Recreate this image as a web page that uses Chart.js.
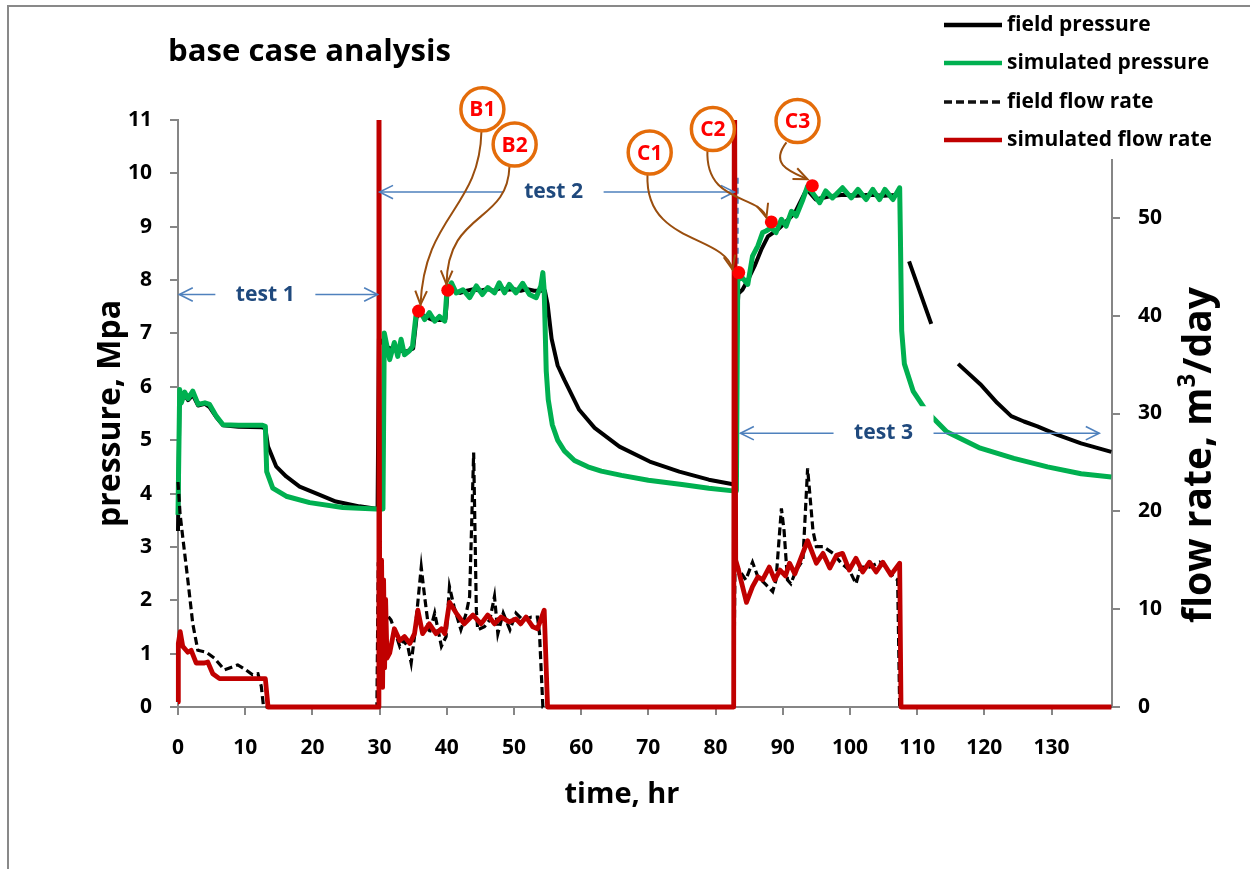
<!DOCTYPE html>
<html>
<head>
<meta charset="utf-8">
<script src="https://cdn.jsdelivr.net/npm/chart.js@4.4.1/dist/chart.umd.min.js"></script>
<style>
  html, body { margin: 0; padding: 0; background: #fff; }
  #wrap { width: 1250px; height: 869px; }
</style>
</head>
<body>
<div id="wrap"><canvas id="c" width="1250" height="869"></canvas></div>
<script>
// ---- measured series: [time (hr), value] ----
const fieldPressure = [
  [0,3.3],[0.2,5.6],[0.5,5.75],[1,5.85],[1.5,5.75],[2.2,5.85],[3,5.65],[4,5.68],[4.7,5.62],[5.7,5.43],
  [6.7,5.28],[9,5.25],[12.5,5.24],[13.0,5.22],[13.4,4.88],[14.6,4.51],[16.1,4.32],[18.1,4.13],[21,3.98],
  [23.5,3.85],[27,3.76],[29.7,3.71],
  [29.9,6.9],[31,6.75],[32,6.7],[33,6.68],[34,6.66],[35,6.72],[35.5,7.3],[36,7.38],[37,7.3],[38,7.25],
  [39,7.25],[39.8,7.27],[40.1,7.75],[41,7.8],[42,7.76],[43,7.8],[44,7.83],[45,7.8],[46,7.83],[47,7.8],
  [48,7.85],[49,7.82],[50,7.83],[51,7.8],[52,7.83],[53,7.8],[54,7.8],[54.6,7.8],[55.0,7.55],[55.6,6.9],
  [56.5,6.4],[57.5,6.13],[59.7,5.57],[62,5.23],[65.7,4.88],[70.2,4.6],[74.6,4.41],[79,4.26],[82.8,4.17],
  [83.1,7.1],[83.4,7.75],[84.0,7.82],[84.8,8.0],[85.8,8.26],[86.8,8.57],[87.8,8.82],[89.3,8.95],[90.3,9.07],
  [91.8,9.26],[93.3,9.64],[93.6,9.7],[94.9,9.51],[97,9.57],[99,9.6],[101,9.58],[103,9.6],[105,9.58],
  [107.4,9.6],[107.6,null],[108.8,8.35],[112.1,7.18],[114,null],[116.1,6.43],[119.4,6.05],[121.9,5.7],
  [124,5.45],[125.9,5.35],[127.9,5.26],[130.9,5.1],[134.4,4.94],[138.9,4.78]
];

const simulatedPressure = [
  [0,3.6],[0.25,5.95],[0.5,5.7],[1,5.9],[1.5,5.78],[2.2,5.92],[3,5.67],[4,5.7],[4.7,5.67],[5.7,5.45],
  [6.7,5.29],[9,5.28],[12.5,5.28],[13.0,5.26],[13.2,4.41],[14.1,4.1],[16.1,3.95],[19.6,3.83],[24.5,3.74],
  [29.5,3.71],[30.5,3.71],
  [30.7,7.01],[31.5,6.51],[32.2,6.83],[32.7,6.57],[33.2,6.89],[33.7,6.6],[34.4,6.67],[34.9,6.76],[35.4,7.32],
  [35.9,7.45],[36.7,7.26],[37.4,7.39],[38.2,7.23],[38.9,7.32],[39.7,7.23],[40.0,7.76],[40.7,7.95],[41.4,7.76],
  [42.4,7.82],[43.4,7.67],[44.4,7.89],[45.3,7.73],[46.1,7.86],[47.1,7.76],[47.8,7.95],[48.6,7.76],[49.3,7.92],
  [50.3,7.76],[51.3,7.94],[52.3,7.73],[53.3,7.67],[54.0,7.89],[54.3,8.14],[54.5,7.8],[54.8,6.3],[55.1,5.76],
  [55.7,5.29],[56.5,5.0],[57.5,4.8],[59,4.62],[61,4.5],[63,4.42],[66,4.34],[70,4.25],[75,4.17],[79,4.1],
  [82.6,4.05],[83.1,4.05],
  [83.3,8.01],[84.0,8.04],[84.8,7.92],[85.5,8.45],[86.3,8.64],[87.0,8.89],[87.5,8.92],[88.3,8.98],[89.0,8.89],
  [89.8,9.14],[90.5,9.01],[91.3,9.29],[92.0,9.2],[93.0,9.51],[93.7,9.76],[94.4,9.64],[95.5,9.45],[96.4,9.67],
  [97.4,9.54],[98.9,9.73],[100.2,9.54],[101.2,9.7],[102.4,9.51],[103.4,9.7],[104.4,9.51],[105.2,9.7],
  [106.4,9.51],[107.4,9.73],[107.5,8.9],[107.7,7.05],[108.1,6.43],[109.4,5.92],[111.4,5.54],[114.4,5.16],
  [119.4,4.85],[124.4,4.66],[129.4,4.5],[134.4,4.37],[138.9,4.31]
];

const fieldFlowRate = [
  [0,23],[0.3,19.8],[0.7,17.4],[1.46,13],[2.2,8.5],[2.95,5.8],[4.2,5.6],[5.4,5.0],[6.9,3.8],[8.9,4.3],
  [10.1,3.8],[11.1,3.3],[11.9,3.4],[12.4,2.1],[12.7,0.2],[13,0],[29.6,0],
  [29.8,14.8],[30.3,12],[31,9.5],[31.7,8.9],[33.0,6.2],[33.5,6.8],[34.2,6.2],[34.7,4.5],[35.2,7.2],[36.2,14.3],
  [36.7,11.3],[37.4,7.5],[38.2,9.6],[39.2,6.2],[39.9,7.2],[40.4,12.3],[41.1,10.2],[42.1,7.9],[42.9,9.6],
  [43.4,11.3],[44.0,26],[44.4,9.9],[44.6,7.9],[45.6,8.2],[46.4,8.9],[47.1,11.3],[47.6,7.5],[48.4,9.6],
  [49.4,7.9],[50.3,9.6],[51.3,8.9],[52.6,9.2],[53.5,9.2],[53.8,7.5],[54.3,0],[82.7,0],
  [82.9,15],[83.5,14],[84.5,13],[85.5,14.8],[86.3,13.3],[87.5,12.5],[88.5,11.8],[89.0,13],[89.8,20.3],
  [90.2,18],[90.7,13],[91.2,12.6],[92.0,14],[93.0,15],[93.7,24.4],[94.5,18],[95.0,16.4],[96.0,16.4],
  [97.5,15.7],[98.7,14.7],[99.9,14],[100.9,12.6],[101.6,14.3],[102.9,14.3],[104.4,14.8],[105.4,14.3],
  [106.4,13.3],[107.1,13],[107.4,0],[138.9,0]
];

const simulatedFlowRate = [
  [0,0.5],[0.05,6.5],[0.33,7.7],[0.71,6.2],[1.46,5.6],[1.96,5.8],[2.7,4.5],[3.94,4.5],[4.43,4.6],[5.18,3.4],
  [6.18,2.9],[12.1,2.9],[13.0,2.9],[13.4,0],[29.8,0],
  [29.9,75],[30.0,16],[30.15,3],[30.3,15],[30.45,2],[30.6,13],[30.75,4],[30.9,11],[31.1,5],[31.5,5.5],
  [32.2,8.0],[33.0,6.8],[33.7,7.2],[34.5,6.5],[35.2,7.5],[35.7,9.9],[36.4,7.5],[37.4,8.5],[38.4,7.5],
  [39.2,8.0],[39.7,7.5],[40.4,10.7],[41.4,9.6],[42.6,8.5],[43.9,9.4],[45.1,8.5],[46.1,9.4],[47.1,8.5],
  [48.1,9.2],[49.3,8.7],[50.3,9.0],[51.0,8.5],[51.8,9.2],[52.8,8.2],[53.5,8.0],[54.5,9.9],[55.0,0],[82.7,0],
  [82.8,75],[83.0,15],[83.3,14.3],[84.6,10.7],[85.5,12.3],[86.3,13.3],[87.0,13.0],[88.0,14.3],[88.8,13.0],
  [89.6,14.0],[90.4,13.4],[91.0,14.7],[91.8,13.6],[93.7,17.0],[95.0,14.7],[96.0,15.7],[97.0,14.2],[98.0,15.5],
  [98.9,15.7],[99.9,14.0],[100.9,15.2],[101.9,13.8],[102.9,14.8],[103.9,13.8],[104.9,14.8],[106.1,13.5],
  [107.4,14.7],[107.6,0],[138.9,0]
];

// history-match checkpoints on the pressure curve
const checkpointNames = ['B1','B2','C1','C2','C3'];
const checkpoints = [[35.8,7.42],[40.15,7.81],[83.45,8.14],[88.3,9.09],[94.4,9.77]];
const checkpointBadges = [[45.3,11.2],[50.1,10.54],[70.2,10.39],[79.6,10.83],[92.2,10.98]];
// leader curves: start, control 1, control 2, end   [hr, MPa]
const checkpointLeaders = [
  [[45.16,10.79],[44.87,9.32],[36.68,9.23],[36.09,7.54]],
  [[49.33,10.13],[49.03,9.04],[40.1,9.32],[39.96,7.92]],
  [[69.87,9.98],[69.42,8.67],[81.33,8.86],[82.52,8.2]],
  [[78.8,10.45],[78.35,9.42],[86.53,9.61],[87.57,9.17]],
  [[90.55,10.58],[88.02,10.17],[91.0,10.04],[93.68,9.89]]
];

// test periods
const testNames = ['test 1','test 2','test 3'];
const testSpans = [[0.2,29.7],[30.0,82.8],[83.7,137.1]];
const testLabelPos = [[13.0,7.73],[55.9,9.65],[105.0,5.13]];
const testBoundaries = [[29.8,10.05,7.0],[83.3,9.92,8.0]];

// axis ticks
const timeTicks = { min: 0, max: 139, step: 10 };
const pressureTicks = { min: 0, max: 11, step: 1 };
const rateTicks = { min: 0, max: 60, step: 10 };

const toXY = arr => arr.map(([x, y]) => ({ x, y }));

const FONT = '"Open Sans", Lato, "DejaVu Sans", sans-serif';
const AXIS_GREY = '#868686';
const BLUE_LINE = '#4F81BD';
const BLUE_TEXT = '#1F497D';
const BROWN = '#9A4E0E';
const ORANGE = '#E46C0A';

function openHead(ctx, fx, fy, tx, ty, len, ang) {
  const a = Math.atan2(ty - fy, tx - fx);
  ctx.beginPath();
  ctx.moveTo(tx - len * Math.cos(a - ang), ty - len * Math.sin(a - ang));
  ctx.lineTo(tx, ty);
  ctx.lineTo(tx - len * Math.cos(a + ang), ty - len * Math.sin(a + ang));
  ctx.stroke();
}

// pick a bold font size so that `text` spans `width` pixels
function fitFont(ctx, text, width) {
  ctx.font = 'bold 100px ' + FONT;
  return 100 * width / ctx.measureText(text).width;
}

const decorations = {
  id: 'decorations',
  beforeDatasetsDraw(chart) {
    const { ctx, scales: { x, y } } = chart;
    ctx.save();
    ctx.strokeStyle = BLUE_LINE;
    ctx.lineWidth = 2;
    ctx.setLineDash([6, 4]);
    testBoundaries.forEach(([t, top, bottom]) => {
      const px = x.getPixelForValue(t);
      ctx.beginPath();
      ctx.moveTo(px, y.getPixelForValue(top));
      ctx.lineTo(px, y.getPixelForValue(bottom));
      ctx.stroke();
    });
    ctx.restore();
  },
  afterDatasetsDraw(chart) {
    const { ctx, scales: { x, y } } = chart;
    ctx.save();

    // test period labels with double arrows
    const testSize = fitFont(ctx, 'test 1', 59);
    testNames.forEach((name, i) => {
      const cx = x.getPixelForValue(testLabelPos[i][0]);
      const cy = y.getPixelForValue(testLabelPos[i][1]);
      const boxW = 100, boxH = 54;
      ctx.fillStyle = '#fff';
      ctx.fillRect(cx - boxW / 2, cy - boxH / 2, boxW, boxH);
      ctx.fillStyle = BLUE_TEXT;
      ctx.font = 'bold ' + testSize + 'px ' + FONT;
      ctx.textAlign = 'center';
      ctx.textBaseline = 'middle';
      ctx.fillText(name, cx, cy);
      const l = x.getPixelForValue(testSpans[i][0]);
      const r = x.getPixelForValue(testSpans[i][1]);
      ctx.strokeStyle = BLUE_LINE;
      ctx.lineWidth = 1.6;
      ctx.beginPath();
      ctx.moveTo(cx - boxW / 2, cy); ctx.lineTo(l, cy);
      ctx.moveTo(cx + boxW / 2, cy); ctx.lineTo(r, cy);
      ctx.stroke();
      openHead(ctx, cx, cy, l, cy, 15, 0.46);
      openHead(ctx, cx, cy, r, cy, 15, 0.46);
    });

    // checkpoint badges and leaders
    checkpointNames.forEach((name, i) => {
      const pts = checkpointLeaders[i].map(([t, p]) => [x.getPixelForValue(t), y.getPixelForValue(p)]);
      ctx.strokeStyle = BROWN;
      ctx.lineWidth = 2;
      ctx.beginPath();
      ctx.moveTo(pts[0][0], pts[0][1]);
      ctx.bezierCurveTo(pts[1][0], pts[1][1], pts[2][0], pts[2][1], pts[3][0], pts[3][1]);
      ctx.stroke();
      openHead(ctx, pts[2][0], pts[2][1], pts[3][0], pts[3][1], 15, 0.4);

      const bx = x.getPixelForValue(checkpointBadges[i][0]);
      const by = y.getPixelForValue(checkpointBadges[i][1]);
      ctx.beginPath();
      ctx.arc(bx, by, 21.5, 0, Math.PI * 2);
      ctx.fillStyle = '#fff';
      ctx.fill();
      ctx.strokeStyle = ORANGE;
      ctx.lineWidth = 3.5;
      ctx.stroke();
      ctx.fillStyle = '#FF0000';
      ctx.font = 'bold 21px ' + FONT;
      ctx.textAlign = 'center';
      ctx.textBaseline = 'middle';
      ctx.fillText(name, bx, by + 1);
    });
    ctx.restore();
  },
  afterDraw(chart) {
    const { ctx, chartArea } = chart;
    ctx.save();

    // outer frame
    ctx.strokeStyle = '#898989';
    ctx.lineWidth = 2;
    ctx.strokeRect(8, 6, 1260, 880);

    // title
    ctx.fillStyle = '#000';
    ctx.font = 'bold ' + fitFont(ctx, 'base case analysis', 283) + 'px ' + FONT;
    ctx.textAlign = 'left';
    ctx.textBaseline = 'alphabetic';
    ctx.fillText('base case analysis', 168, 61);

    // axis titles
    ctx.font = 'bold ' + fitFont(ctx, 'time, hr', 115) + 'px ' + FONT;
    ctx.textAlign = 'center';
    ctx.textBaseline = 'middle';
    ctx.fillText('time, hr', 622, 795);

    ctx.save();
    ctx.font = 'bold ' + fitFont(ctx, 'pressure, Mpa', 227) + 'px ' + FONT;
    ctx.translate(111, (chartArea.top + chartArea.bottom) / 2);
    ctx.rotate(-Math.PI / 2);
    ctx.fillText('pressure, Mpa', 0, 0);
    ctx.restore();

    ctx.save();
    ctx.translate(1200, 455);
    ctx.rotate(-Math.PI / 2);
    const bigSize = fitFont(ctx, 'flow rate, m/day', 322);
    const big = 'bold ' + bigSize + 'px ' + FONT, small = 'bold ' + (bigSize * 0.62) + 'px ' + FONT;
    ctx.textAlign = 'left';
    ctx.textBaseline = 'middle';
    ctx.font = big; const w1 = ctx.measureText('flow rate, m').width; const w3 = ctx.measureText('/day').width;
    ctx.font = small; const w2 = ctx.measureText('3').width;
    let sx = -(w1 + w2 + w3) / 2;
    ctx.font = big; ctx.fillText('flow rate, m', sx, 0); sx += w1;
    ctx.font = small; ctx.fillText('3', sx, -bigSize * 0.3); sx += w2;
    ctx.font = big; ctx.fillText('/day', sx, 0);
    ctx.restore();

    // legend
    ctx.fillStyle = '#fff';
    ctx.fillRect(930, 8, 320, 151);
    const items = [
      { label: 'field pressure', color: '#000', width: 4.5, dash: [] },
      { label: 'simulated pressure', color: '#00B050', width: 4.5, dash: [] },
      { label: 'field flow rate', color: '#111', width: 3.5, dash: [8, 4] },
      { label: 'simulated flow rate', color: '#C00000', width: 4.5, dash: [] }
    ];
    const rows = [25, 63, 102, 140];
    const legendSize = fitFont(ctx, 'simulated flow rate', 205);
    items.forEach((it, i) => {
      ctx.strokeStyle = it.color;
      ctx.lineWidth = it.width;
      ctx.setLineDash(it.dash);
      ctx.beginPath();
      ctx.moveTo(944, rows[i]);
      ctx.lineTo(1002, rows[i]);
      ctx.stroke();
      ctx.setLineDash([]);
      ctx.fillStyle = '#000';
      ctx.font = 'bold ' + legendSize + 'px ' + FONT;
      ctx.textAlign = 'left';
      ctx.textBaseline = 'middle';
      ctx.fillText(it.label, 1007, rows[i]);
    });
    ctx.restore();
  }
};

const tickFont = { family: FONT, size: 21, weight: 'bold' };
const edgeClip = { left: 6, right: 6, bottom: 6, top: 0 };

new Chart(document.getElementById('c'), {
  data: {
    datasets: [
      { type: 'scatter', label: 'checkpoints', data: toXY(checkpoints), yAxisID: 'y',
        pointRadius: 6.5, pointBackgroundColor: '#FF0000', pointBorderWidth: 0, order: 0 },
      { type: 'line', label: 'simulated flow rate', data: toXY(simulatedFlowRate), yAxisID: 'y2',
        borderColor: '#C00000', borderWidth: 4.8, pointRadius: 0, tension: 0, clip: edgeClip,
        borderJoinStyle: 'round', order: 1 },
      { type: 'line', label: 'field flow rate', data: toXY(fieldFlowRate), yAxisID: 'y2',
        borderColor: '#000', borderWidth: 3.2, borderDash: [8, 4], pointRadius: 0, tension: 0,
        clip: edgeClip, order: 2 },
      { type: 'line', label: 'simulated pressure', data: toXY(simulatedPressure), yAxisID: 'y',
        borderColor: '#00B050', borderWidth: 5, pointRadius: 0, tension: 0, clip: edgeClip,
        borderJoinStyle: 'round', order: 3 },
      { type: 'line', label: 'field pressure', data: toXY(fieldPressure), yAxisID: 'y',
        borderColor: '#000', borderWidth: 4, pointRadius: 0, tension: 0, spanGaps: false,
        clip: edgeClip, borderJoinStyle: 'round', order: 4 }
    ]
  },
  options: {
    responsive: false,
    animation: false,
    devicePixelRatio: 1,
    layout: { padding: { top: 120, left: 0, right: 0, bottom: 0 } },
    plugins: { legend: { display: false }, tooltip: { enabled: false } },
    scales: {
      x: {
        type: 'linear', position: 'bottom', min: timeTicks.min, max: timeTicks.max,
        ticks: { stepSize: timeTicks.step, includeBounds: false, font: tickFont, color: '#000',
                 padding: 20, maxRotation: 0, autoSkip: false },
        grid: { drawOnChartArea: false, tickLength: 8, color: AXIS_GREY, lineWidth: 2 },
        border: { color: AXIS_GREY, width: 2 },
        afterFit(s) { s.height = 162; }
      },
      y: {
        type: 'linear', position: 'left', min: pressureTicks.min, max: pressureTicks.max,
        ticks: { stepSize: pressureTicks.step, font: tickFont, color: '#000', padding: 18 },
        grid: { drawOnChartArea: false, tickLength: 8, color: AXIS_GREY, lineWidth: 2 },
        border: { color: AXIS_GREY, width: 2 },
        afterFit(s) { s.width = 178; }
      },
      y2: {
        type: 'linear', position: 'right', min: rateTicks.min, max: rateTicks.max,
        ticks: { stepSize: rateTicks.step, font: tickFont, color: '#000', padding: 18 },
        grid: { drawOnChartArea: false, tickLength: 8, color: AXIS_GREY, lineWidth: 2 },
        border: { color: AXIS_GREY, width: 2 },
        afterFit(s) { s.width = 138; }
      }
    }
  },
  plugins: [decorations]
});
</script>
</body>
</html>
